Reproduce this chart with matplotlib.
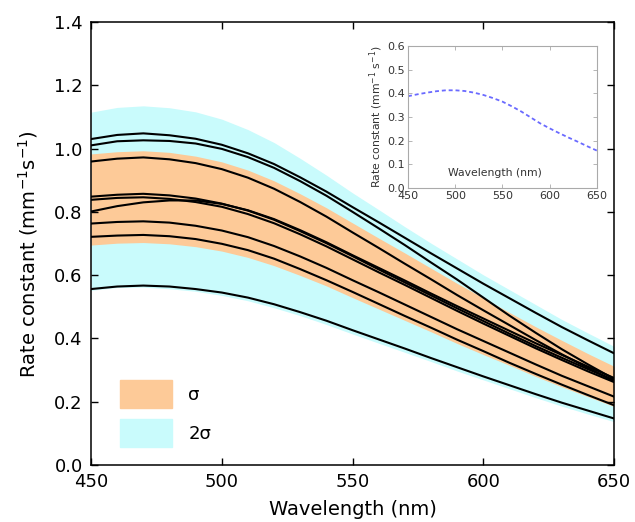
import numpy as np
import matplotlib
matplotlib.use("Agg")
from matplotlib import pyplot as plt
from matplotlib.patches import Patch

# longitudes de onda (nm)
wl = [450, 460, 470, 480, 490, 500, 510, 520, 530, 540, 550,
      560, 570, 580, 590, 600, 610, 620, 630, 640, 650]

# bandas sigma y 2 sigma
banda2_sup = [1.115, 1.130, 1.135, 1.129, 1.116, 1.093, 1.060, 1.019, 0.969, 0.916, 0.860,
              0.807, 0.753, 0.701, 0.651, 0.601, 0.554, 0.507, 0.460, 0.417, 0.375]
banda2_inf = [0.552, 0.561, 0.562, 0.557, 0.549, 0.536, 0.519, 0.497, 0.472, 0.444, 0.414,
              0.385, 0.356, 0.327, 0.297, 0.269, 0.241, 0.213, 0.186, 0.161, 0.137]
banda1_sup = [0.983, 0.990, 0.993, 0.988, 0.976, 0.958, 0.932, 0.898, 0.857, 0.813, 0.765,
              0.717, 0.670, 0.622, 0.574, 0.528, 0.482, 0.437, 0.394, 0.352, 0.312]
banda1_inf = [0.695, 0.701, 0.703, 0.699, 0.690, 0.676, 0.656, 0.630, 0.599, 0.566, 0.529,
              0.493, 0.457, 0.421, 0.384, 0.349, 0.315, 0.280, 0.247, 0.216, 0.185]

# curvas individuales
curvas = [
    [1.030, 1.043, 1.048, 1.042, 1.031, 1.012, 0.985, 0.951, 0.909, 0.864, 0.815,
     0.767, 0.718, 0.669, 0.621, 0.573, 0.527, 0.481, 0.436, 0.394, 0.353],
    [1.010, 1.023, 1.026, 1.024, 1.016, 0.999, 0.973, 0.939, 0.897, 0.851, 0.800,
     0.748, 0.695, 0.640, 0.586, 0.529, 0.472, 0.418, 0.366, 0.318, 0.272],
    [0.959, 0.968, 0.972, 0.966, 0.954, 0.935, 0.908, 0.873, 0.831, 0.785, 0.735,
     0.686, 0.636, 0.587, 0.537, 0.489, 0.442, 0.395, 0.350, 0.307, 0.265],
    [0.848, 0.854, 0.857, 0.852, 0.842, 0.826, 0.804, 0.775, 0.739, 0.701, 0.660,
     0.618, 0.577, 0.536, 0.495, 0.455, 0.415, 0.376, 0.339, 0.303, 0.268],
    [0.838, 0.844, 0.846, 0.841, 0.831, 0.816, 0.793, 0.764, 0.729, 0.691, 0.650,
     0.609, 0.569, 0.528, 0.487, 0.447, 0.408, 0.369, 0.332, 0.296, 0.262],
    [0.801, 0.818, 0.830, 0.836, 0.836, 0.825, 0.805, 0.777, 0.742, 0.704, 0.663,
     0.623, 0.583, 0.542, 0.502, 0.463, 0.424, 0.385, 0.348, 0.311, 0.275],
    [0.763, 0.768, 0.770, 0.766, 0.756, 0.741, 0.720, 0.692, 0.659, 0.623, 0.584,
     0.546, 0.507, 0.468, 0.429, 0.392, 0.355, 0.318, 0.282, 0.249, 0.216],
    [0.721, 0.725, 0.727, 0.723, 0.714, 0.699, 0.679, 0.652, 0.619, 0.584, 0.547,
     0.509, 0.471, 0.434, 0.396, 0.360, 0.323, 0.288, 0.254, 0.221, 0.189],
    [0.556, 0.564, 0.567, 0.564, 0.556, 0.545, 0.529, 0.508, 0.483, 0.456, 0.426,
     0.397, 0.368, 0.338, 0.309, 0.280, 0.252, 0.224, 0.197, 0.172, 0.147],
]

# curva del recuadro
recuadro = [0.388, 0.396, 0.403, 0.409, 0.413, 0.413, 0.410, 0.403, 0.393, 0.380, 0.365,
            0.345, 0.323, 0.298, 0.273, 0.252, 0.232, 0.213, 0.195, 0.176, 0.158]

naranja = '#fdca98'
cian = '#c9fbfc'

fig = plt.figure(figsize=(6.35, 5.22), dpi=100)
ax = fig.add_axes([0.1433, 0.1092, 0.8237, 0.8487])

ax.fill_between(wl, banda2_inf, banda2_sup, color=cian, lw=0)
ax.fill_between(wl, banda1_inf, banda1_sup, color=naranja, lw=0)
for c in curvas:
    ax.plot(wl, c, color='black', lw=1.5)

ax.set_xlim(450, 650)
ax.set_ylim(0, 1.4)
ax.set_xticks([450, 500, 550, 600, 650])
ax.set_yticks(np.arange(0, 1.41, 0.2))
ax.set_yticklabels(['%.1f' % v for v in np.arange(0, 1.41, 0.2)])
ax.tick_params(direction='in', top=True, right=True, length=5, width=1,
               labelsize=13, pad=6)
for s in ax.spines.values():
    s.set_linewidth(1.1)
ax.set_xlabel('Wavelength (nm)', fontsize=14, labelpad=6)
ax.set_ylabel(r'Rate constant (mm$^{-1}$s$^{-1}$)', fontsize=14)
ax.yaxis.set_label_coords(-0.098, 0.475)

manejadores = [Patch(color=naranja, label='σ'), Patch(color=cian, label='2σ')]
ax.legend(handles=manejadores, loc='lower left', bbox_to_anchor=(0.055, 0.041),
          frameon=False, fontsize=13, handlelength=2.9, handleheight=2.0,
          labelspacing=0.6, handletextpad=0.9, borderpad=0, borderaxespad=0)

# recuadro
ins = fig.add_axes([0.6425, 0.6398, 0.2976, 0.272])
ins.set_facecolor('white')
ins.plot(wl, recuadro, color='#6a6aff', lw=1.3, ls=(0, (2.2, 1.6)))
ins.set_xlim(450, 650)
ins.set_ylim(0, 0.6)
ins.set_xticks([450, 500, 550, 600, 650])
ins.set_yticks(np.arange(0, 0.61, 0.1))
ins.set_yticklabels(['%.1f' % v for v in np.arange(0, 0.61, 0.1)])
ins.tick_params(direction='in', top=True, right=True, length=3, width=0.6,
                color='#aaaaaa', labelcolor='#333333', labelsize=8, pad=2)
for s in ins.spines.values():
    s.set_color('#aaaaaa')
    s.set_linewidth(0.8)
ins.set_xlabel('Wavelength (nm)', fontsize=7.8, color='#333333')
ins.xaxis.set_label_coords(0.46, 0.14)
ins.xaxis.label.set_va('top')
ins.set_ylabel(r'Rate constant (mm$^{-1}$ s$^{-1}$)', fontsize=7.8,
               color='#333333', labelpad=2)

fig.savefig('out.png', dpi=100)
